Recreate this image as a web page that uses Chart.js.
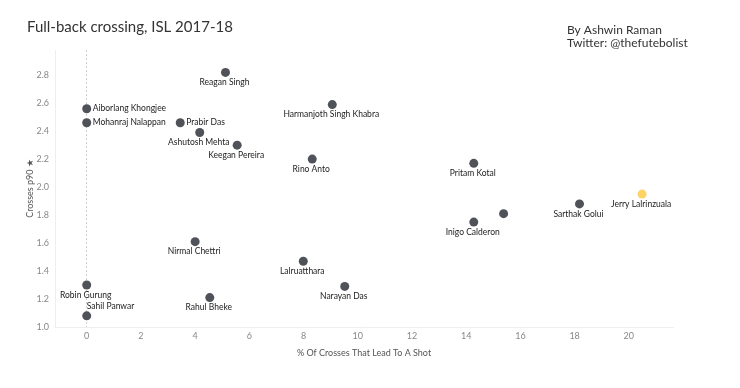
<!DOCTYPE html>
<html lang="en">
<head>
    <meta charset="UTF-8">
    <title>Full-back crossing, ISL 2017-18</title>
    <style>
        body {
            margin: 0;
            padding: 0;
            background-color: #ffffff;
        }
        #wrap {
            width: 740px;
            height: 388px;
        }
    </style>
</head>
<body>
    <div id="wrap">
        <canvas id="crossChart" width="740" height="388"></canvas>
    </div>
    <script src="https://cdn.jsdelivr.net/npm/chart.js"></script>
    <script>
        // data
        const players = [
            'Aiborlang Khongjee', 'Mohanraj Nalappan', 'Robin Gurung', 'Sahil Panwar',
            'Prabir Das', 'Nirmal Chettri', 'Ashutosh Mehta', 'Rahul Bheke',
            'Reagan Singh', 'Keegan Pereira', 'Lalruatthara', 'Rino Anto',
            'Harmanjoth Singh Khabra', 'Narayan Das', 'Pritam Kotal', 'Inigo Calderon',
            '', 'Sarthak Golui', 'Jerry Lalrinzuala'
        ];
        const pctCrossesToShot = [
            0, 0, 0, 0,
            3.45, 4.0, 4.17, 4.54,
            5.12, 5.55, 7.99, 8.32,
            9.06, 9.52, 14.28, 14.28,
            15.38, 18.18, 20.49
        ];
        const crossesP90 = [
            2.56, 2.46, 1.30, 1.08,
            2.46, 1.61, 2.39, 1.21,
            2.82, 2.30, 1.47, 2.20,
            2.59, 1.29, 2.17, 1.75,
            1.81, 1.88, 1.95
        ];
        const highlighted = 'Jerry Lalrinzuala';

        // where each name sits next to its dot (default is below)
        const labelSide = {
            'Aiborlang Khongjee': 'right',
            'Mohanraj Nalappan': 'right',
            'Prabir Das': 'right',
            'Sahil Panwar': 'above'
        };

        const points = players.map((p, i) => ({ x: pctCrossesToShot[i], y: crossesP90[i], name: p }));

        const textFont = 'Lato, "Open Sans", sans-serif';

        const pointLabels = {
            id: 'pointLabels',
            afterDatasetsDraw(chart) {
                const ctx = chart.ctx;
                const meta = chart.getDatasetMeta(0);
                ctx.save();
                ctx.font = '8.5px ' + textFont;
                ctx.fillStyle = '#222';
                ctx.textBaseline = 'middle';
                meta.data.forEach((el, i) => {
                    const name = players[i];
                    if (!name) return;
                    const side = labelSide[name] || 'below';
                    if (side === 'right') {
                        ctx.textAlign = 'left';
                        ctx.fillText(name, el.x + 6, el.y);
                    } else if (side === 'above') {
                        ctx.textAlign = 'left';
                        ctx.fillText(name, el.x, el.y - 10);
                    } else {
                        ctx.textAlign = 'center';
                        ctx.fillText(name, el.x - 1, el.y + 10);
                    }
                });
                ctx.restore();
            }
        };

        const headerText = {
            id: 'headerText',
            afterDraw(chart) {
                const ctx = chart.ctx;
                ctx.save();
                ctx.textBaseline = 'middle';
                ctx.textAlign = 'left';
                ctx.fillStyle = '#333';
                ctx.font = '15px ' + textFont;
                ctx.fillText('Full-back crossing, ISL 2017-18', 27, 27);
                ctx.font = '12px ' + textFont;
                ctx.fillText('By Ashwin Raman', 567, 30);
                ctx.fillText('Twitter: @thefutebolist', 567, 43);
                ctx.restore();
            }
        };

        const ctx = document.getElementById('crossChart').getContext('2d');
        new Chart(ctx, {
            type: 'scatter',
            data: {
                datasets: [{
                    data: points,
                    pointRadius: 4.5,
                    pointHoverRadius: 4.5,
                    borderWidth: 0,
                    backgroundColor: players.map(p => p === highlighted ? '#fdd366' : '#50525a')
                }]
            },
            options: {
                responsive: false,
                animation: false,
                layout: {
                    padding: { top: 50, right: 67, bottom: 0, left: 0 }
                },
                plugins: {
                    legend: { display: false },
                    tooltip: { enabled: false }
                },
                scales: {
                    x: {
                        type: 'linear',
                        min: -1.17,
                        max: 21.63,
                        afterFit: s => { s.height = 61; },
                        ticks: {
                            stepSize: 2,
                            includeBounds: false,
                            padding: 4,
                            color: '#888',
                            font: { family: textFont, size: 9 }
                        },
                        grid: {
                            drawTicks: false,
                            color: c => (c.tick && c.tick.value === 0) ? '#d0d0d0' : 'rgba(0,0,0,0)'
                        },
                        border: { color: '#eeeeee', dash: [2, 2] },
                        title: {
                            display: true,
                            text: '% Of Crosses That Lead To A Shot',
                            color: '#555',
                            font: { family: textFont, size: 9 },
                            padding: { top: 0, bottom: 30 }
                        }
                    },
                    y: {
                        type: 'linear',
                        min: 1.0,
                        max: 2.98,
                        afterFit: s => { s.width = 55; },
                        ticks: {
                            stepSize: 0.2,
                            includeBounds: false,
                            padding: 6,
                            color: '#888',
                            font: { family: textFont, size: 9 },
                            callback: v => v.toFixed(1)
                        },
                        grid: { display: false, drawTicks: false },
                        border: { color: '#eeeeee' },
                        title: {
                            display: true,
                            text: 'Crosses p90 \u2605',
                            color: '#555',
                            font: { family: textFont, size: 9 },
                            padding: { top: 25, bottom: 0 }
                        }
                    }
                }
            },
            plugins: [pointLabels, headerText]
        });
    </script>
</body>
</html>
